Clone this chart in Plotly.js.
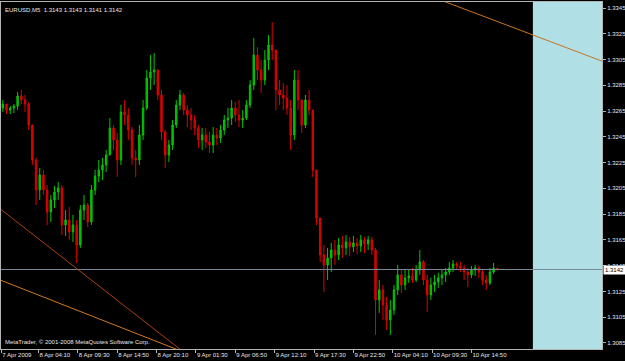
<!DOCTYPE html>
<html>
<head>
<meta charset="utf-8">
<script src="https://cdn.plot.ly/plotly-3.0.1.min.js"></script>
<style>html,body{margin:0;padding:0;background:#000;}#chart{width:625px;height:361px;}</style>
</head>
<body>
<div id="chart"></div>
<script>
// EURUSD M5 (resampled) OHLC
const firstOpen = 1.32674;
const closes = [1.32705,1.32658,1.32674,1.32689,1.32767,1.32736,1.32705,1.32542,1.32270,1.32038,
1.32154,1.32038,1.31867,1.31960,1.32022,1.32053,1.31766,1.31805,1.31712,1.31766,
1.31611,1.31882,1.31921,1.31789,1.32038,1.32146,1.32193,1.32232,1.32309,1.32519,
1.32426,1.32270,1.32643,1.32620,1.32503,1.32286,1.32270,1.32464,1.32674,1.32907,
1.32953,1.32969,1.32775,1.32488,1.32309,1.32387,1.32542,1.32697,1.32775,1.32658,
1.32620,1.32581,1.32519,1.32426,1.32464,1.32410,1.32387,1.32464,1.32441,1.32503,
1.32581,1.32596,1.32674,1.32620,1.32581,1.32596,1.32697,1.32852,1.33085,1.32969,
1.32891,1.33046,1.33163,1.33124,1.32814,1.32775,1.32752,1.32674,1.32464,1.32891,
1.32736,1.32542,1.32736,1.32658,1.32193,1.31820,1.31533,1.31456,1.31510,1.31572,
1.31533,1.31611,1.31588,1.31634,1.31595,1.31626,1.31603,1.31650,1.31619,1.31650,
1.31572,1.31184,1.31262,1.31145,1.31029,1.31106,1.31262,1.31378,1.31300,1.31355,
1.31370,1.31339,1.31417,1.31479,1.31339,1.31223,1.31300,1.31324,1.31355,1.31378,
1.31401,1.31432,1.31463,1.31448,1.31432,1.31401,1.31378,1.31417,1.31432,1.31401,
1.31339,1.31316,1.31401,1.31430,1.31420];
const highs = [1.32736,1.32705,1.32689,1.32705,1.32798,1.32814,1.32775,1.32720,1.32542,1.32286,
1.32208,1.32193,1.32076,1.31999,1.32069,1.32099,1.32076,1.31882,1.31906,1.31844,
1.31805,1.31921,1.31999,1.31937,1.32076,1.32193,1.32270,1.32286,1.32348,1.32596,
1.32542,1.32480,1.32697,1.32736,1.32674,1.32526,1.32348,1.32542,1.32736,1.32969,
1.33085,1.33101,1.32975,1.32814,1.32503,1.32426,1.32581,1.32736,1.32814,1.32790,
1.32697,1.32674,1.32620,1.32542,1.32519,1.32519,1.32488,1.32526,1.32519,1.32542,
1.32620,1.32674,1.32736,1.32720,1.32736,1.32658,1.32736,1.32891,1.33217,1.33147,
1.33046,1.33124,1.33240,1.33341,1.33085,1.32891,1.32868,1.32852,1.32736,1.32969,
1.32969,1.32740,1.32775,1.32814,1.32658,1.32193,1.31820,1.31611,1.31588,1.31626,
1.31650,1.31665,1.31681,1.31688,1.31673,1.31681,1.31665,1.31688,1.31673,1.31681,
1.31673,1.31588,1.31339,1.31300,1.31207,1.31184,1.31300,1.31456,1.31417,1.31417,
1.31417,1.31432,1.31456,1.31572,1.31494,1.31378,1.31355,1.31378,1.31394,1.31417,
1.31432,1.31479,1.31494,1.31479,1.31479,1.31456,1.31432,1.31448,1.31456,1.31448,
1.31417,1.31378,1.31432,1.31471,1.31430];
const lows = [1.32643,1.32627,1.32627,1.32635,1.32658,1.32705,1.32643,1.32503,1.32232,1.31921,
1.31960,1.31999,1.31766,1.31789,1.31898,1.31960,1.31688,1.31681,1.31650,1.31634,
1.31471,1.31588,1.31805,1.31750,1.31766,1.31999,1.32099,1.32115,1.32177,1.32309,
1.32348,1.32138,1.32232,1.32542,1.32426,1.32232,1.32138,1.32232,1.32426,1.32658,
1.32814,1.32852,1.32736,1.32426,1.32208,1.32255,1.32348,1.32519,1.32658,1.32620,
1.32526,1.32503,1.32464,1.32364,1.32348,1.32364,1.32325,1.32325,1.32387,1.32402,
1.32464,1.32519,1.32542,1.32565,1.32526,1.32519,1.32581,1.32674,1.32814,1.32891,
1.32790,1.32852,1.32969,1.33046,1.32658,1.32697,1.32658,1.32620,1.32348,1.32426,
1.32658,1.32480,1.32519,1.32620,1.32138,1.31766,1.31479,1.31246,1.31339,1.31401,
1.31456,1.31494,1.31510,1.31533,1.31525,1.31556,1.31541,1.31556,1.31549,1.31572,
1.31533,1.30912,1.31083,1.31029,1.30951,1.30912,1.31068,1.31223,1.31238,1.31262,
1.31316,1.31316,1.31324,1.31378,1.31300,1.31091,1.31184,1.31246,1.31277,1.31300,
1.31324,1.31378,1.31401,1.31417,1.31401,1.31339,1.31285,1.31355,1.31370,1.31355,
1.31300,1.31262,1.31300,1.31386,1.31410];

const timeTickPos = [0.6,10.66,21.33,32.0,42.66,53.33,64.0,74.66,85.33,96.0,106.66,117.33,128.0];
const timeTickLabels = ['7 Apr 2009','8 Apr 04:10','8 Apr 09:30','8 Apr 14:50','8 Apr 20:10','9 Apr 01:30','9 Apr 06:50','9 Apr 12:10','9 Apr 17:30','9 Apr 22:50','10 Apr 04:10','10 Apr 09:30','10 Apr 14:50'];
const priceTicks = [1.3085,1.3105,1.3125,1.3145,1.3165,1.3185,1.3205,1.3225,1.3245,1.3265,1.3285,1.3305,1.3325,1.3345];
const bidPrice = 1.3142;
const trendA = {x:[0.5,50], y:[1.31886,1.30779]};
const trendB = {x:[0.5,50], y:[1.31336,1.30779]};
const trendC = {x:[119,164], y:[1.33519,1.33031]};
const headerText = 'EURUSD,M5  1.3143 1.3143 1.3141 1.3142';
const footerText = 'MetaTrader, © 2001-2008 MetaQuotes Software Corp.';

const idx = closes.map((_, i) => i + 1);
const opens = closes.map((_, i) => i === 0 ? firstOpen : closes[i - 1]);

const fnt = 'Liberation Sans, Arial, sans-serif';
const txt = '#E6E6E6';
const axisCol = '#B4B4B4';

const trace = {
  type: 'candlestick', x: idx, open: opens, high: highs, low: lows, close: closes,
  increasing: {line: {color: '#00C800', width: 1}, fillcolor: '#00B400'},
  decreasing: {line: {color: '#E00000', width: 1}, fillcolor: '#C80000'},
  whiskerwidth: 0, hoverinfo: 'skip'
};

function seg(t, color) {
  return {type: 'line', xref: 'x', yref: 'y', x0: t.x[0], y0: t.y[0], x1: t.x[1], y1: t.y[1],
          line: {color: color, width: 1}, layer: 'above'};
}

const layout = {
  width: 625, height: 361,
  margin: {l: 1, r: 23, t: 2, b: 12, pad: 0},
  paper_bgcolor: '#000000', plot_bgcolor: '#000000',
  showlegend: false,
  boxgap: 0.45,
  xaxis: {
    range: [0.5, 163.37], showgrid: false, zeroline: false,
    showline: true, linecolor: axisCol, linewidth: 1, mirror: true,
    ticks: 'outside', ticklen: 3, tickcolor: axisCol,
    tickvals: timeTickPos, ticktext: timeTickLabels, tickangle: 0,
    ticklabelposition: 'outside right', ticklabelstandoff: 0,
    tickfont: {family: fnt, size: 6, color: txt},
    rangeslider: {visible: false}, fixedrange: true
  },
  yaxis: {
    side: 'right', range: [1.30803, 1.33497], showgrid: false, zeroline: false,
    showline: true, linecolor: axisCol, linewidth: 1, mirror: true,
    ticks: 'outside', ticklen: 3, tickcolor: axisCol,
    tickvals: priceTicks, tickformat: '.4f',
    tickfont: {family: fnt, size: 6, color: txt}, fixedrange: true
  },
  shapes: [
    {type: 'rect', xref: 'paper', yref: 'paper', x0: 0.885, x1: 1, y0: 0, y1: 1,
     fillcolor: '#B0E0E6', line: {width: 0}, layer: 'below'},
    {type: 'line', xref: 'paper', yref: 'y', x0: 0, x1: 1, y0: bidPrice, y1: bidPrice,
     line: {color: '#7A8A99', width: 1}, layer: 'above'},
    seg(trendA, '#A8400E'),
    seg(trendB, '#D2781E'),
    seg(trendC, '#C87420')
  ],
  annotations: [
    {xref: 'paper', yref: 'y', x: 1, y: bidPrice, xanchor: 'left', yanchor: 'middle', xshift: 1,
     text: bidPrice.toFixed(4), showarrow: false, bgcolor: '#FFFFFF', borderpad: 1,
     font: {family: fnt, size: 6, color: '#000000'}},
    {xref: 'paper', yref: 'paper', x: 0, y: 1, xanchor: 'left', yanchor: 'top', xshift: 2, yshift: -3,
     text: headerText, showarrow: false, font: {family: fnt, size: 6, color: txt}},
    {xref: 'paper', yref: 'paper', x: 0, y: 0, xanchor: 'left', yanchor: 'bottom', xshift: 2, yshift: 2,
     text: footerText, showarrow: false, font: {family: fnt, size: 6, color: txt}}
  ]
};

Plotly.newPlot('chart', [trace], layout, {staticPlot: true, displayModeBar: false});
</script>
</body>
</html>
